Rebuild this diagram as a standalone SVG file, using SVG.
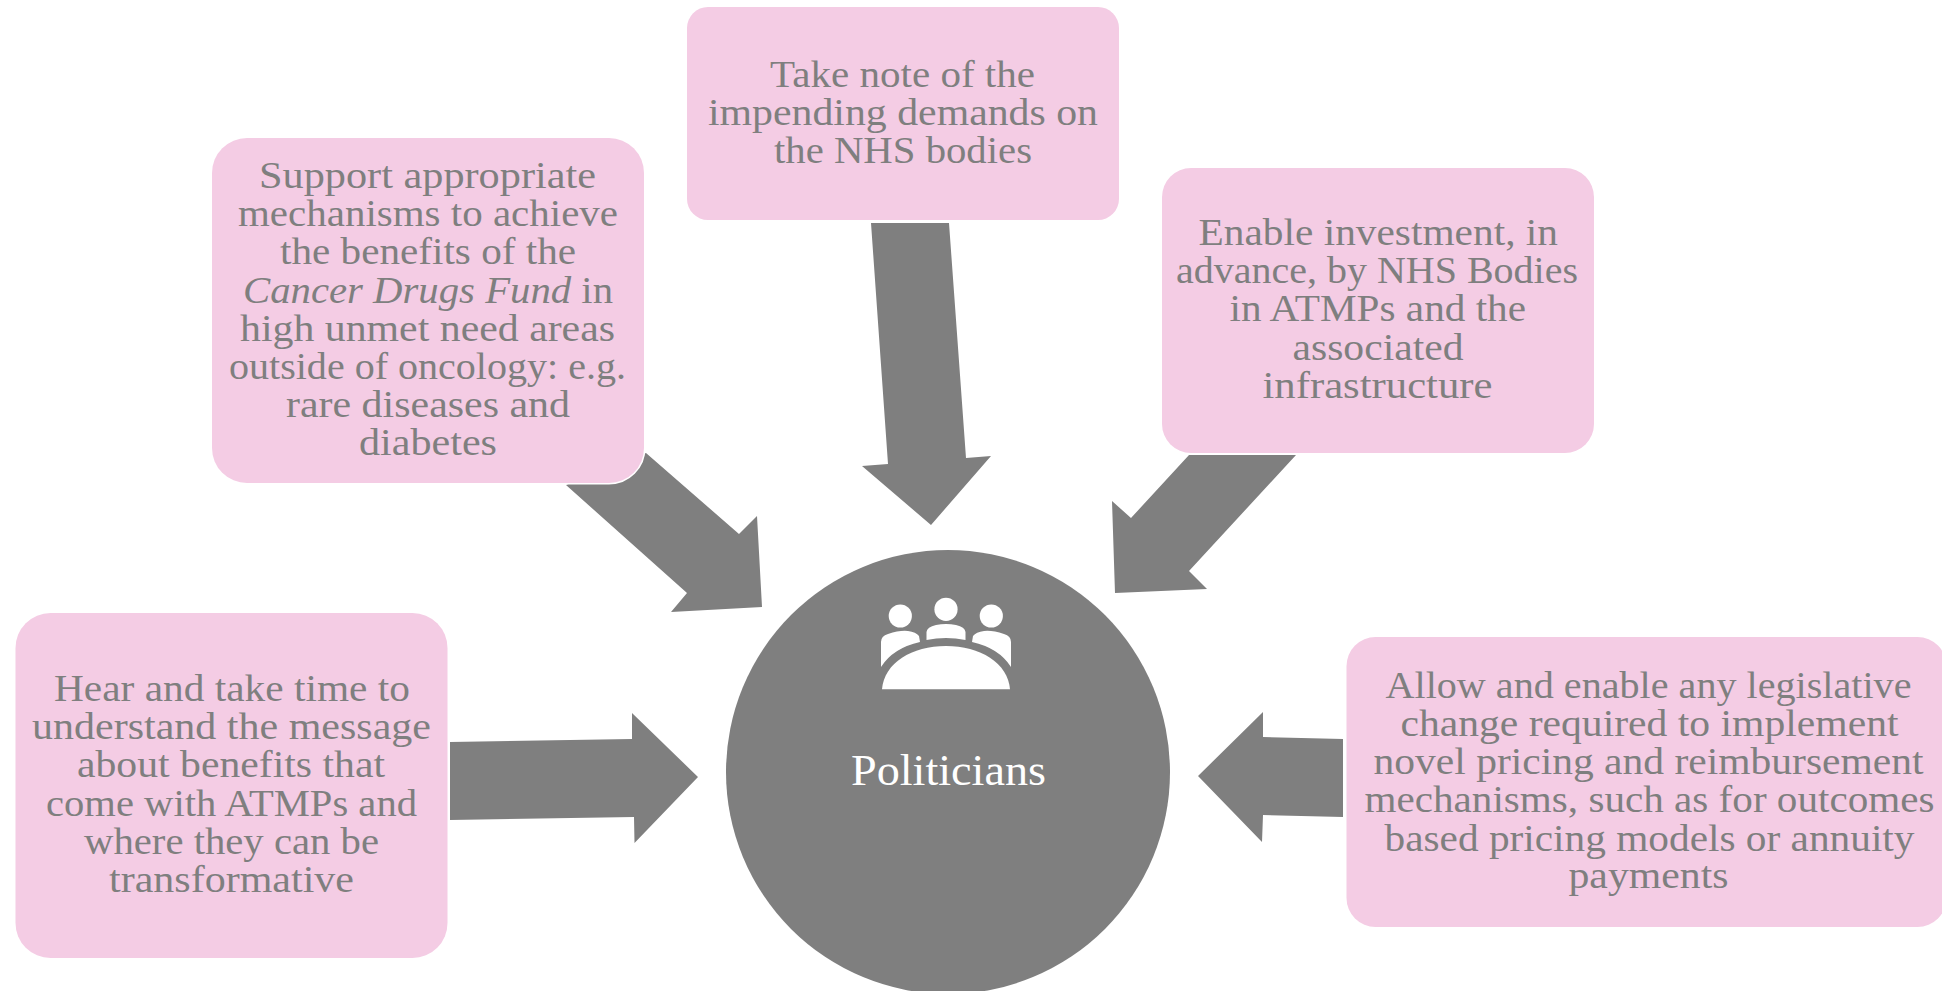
<svg xmlns="http://www.w3.org/2000/svg" width="1942" height="991" viewBox="0 0 1942 991">
<style>
.box{fill:#f4cce4}
.halo{fill:none;stroke:#ffffff;stroke-width:3}
.arrow{fill:#7f7f7f}
.t{font-family:"Liberation Serif","DejaVu Serif",serif;font-size:38px;fill:#7f7f7f}
.hub{fill:#7f7f7f}
.ic{fill:#ffffff}
.p{font-family:"Liberation Serif","DejaVu Serif",serif;font-size:45px;fill:#ffffff}
</style>
<rect width="1942" height="991" fill="#ffffff"/>
<g id="connectors">
<polygon class="arrow" points="450,742 632,739 632,713 698,777 634.5,843 634,817 450,820"/>
<polygon class="arrow" points="646,453 739,534 757,516 762,607 671,612 687,593 566,485"/>
<polygon class="arrow" points="871,223 949,223 966,458 991,456 931,525 862,466 888,464"/>
<polygon class="arrow" points="1189,455 1296,455 1189,571 1207,589 1115,593 1112,501 1131,518"/>
<polygon class="arrow" points="1343,739 1263,737 1263,712 1198,776 1262,842 1263,815 1343,817"/>
</g>
<g id="node-politicians">
<circle class="hub" cx="948" cy="772" r="222"/>
<g id="icon">
<circle class="ic" cx="900.3" cy="616" r="11.6"/>
<circle class="ic" cx="946" cy="609.3" r="11.6"/>
<circle class="ic" cx="991.3" cy="616" r="11.6"/>
<path class="ic" d="M881,667V642Q881,636 888,634Q900,630 908,631Q916,632 919,636L920,642Q893,648 881,667Z"/>
<path class="ic" d="M1011,667V642Q1011,636 1004,634Q992,630 984,631Q976,632 973,636L972,642Q999,648 1011,667Z"/>
<path class="ic" d="M926.5,640V632Q927,627 936,625Q946,623 956,625Q965,627 965.5,632V640Q946,636 926.5,640Z"/>
<path class="ic" d="M882,689.3C884,663 912,646 946,646C980,646 1008,663 1010,689.3Z"/>
</g>
<text class="p" x="851" y="785" textLength="195" lengthAdjust="spacingAndGlyphs">Politicians</text>
</g>
<g id="node-hear">
<rect class="box" x="15.5" y="613" width="432" height="345" rx="35" ry="35"/>
<text class="t" x="54" y="701" textLength="356" lengthAdjust="spacingAndGlyphs">Hear and take time to</text>
<text class="t" x="32" y="739" textLength="399" lengthAdjust="spacingAndGlyphs">understand the message</text>
<text class="t" x="77" y="777" textLength="308" lengthAdjust="spacingAndGlyphs">about benefits that</text>
<text class="t" x="46" y="816" textLength="371" lengthAdjust="spacingAndGlyphs">come with ATMPs and</text>
<text class="t" x="84" y="854" textLength="295" lengthAdjust="spacingAndGlyphs">where they can be</text>
<text class="t" x="109" y="892" textLength="245" lengthAdjust="spacingAndGlyphs">transformative</text>
</g>
<g id="node-support">
<rect class="halo" x="212" y="138" width="432" height="345" rx="35" ry="35"/>
<rect class="box" x="212" y="138" width="432" height="345" rx="35" ry="35"/>
<text class="t" x="259" y="188" textLength="337" lengthAdjust="spacingAndGlyphs">Support appropriate</text>
<text class="t" x="238" y="226" textLength="380" lengthAdjust="spacingAndGlyphs">mechanisms to achieve</text>
<text class="t" x="280" y="264" textLength="296" lengthAdjust="spacingAndGlyphs">the benefits of the</text>
<text class="t" x="243" y="303" textLength="370" lengthAdjust="spacingAndGlyphs"><tspan font-style="italic">Cancer Drugs Fund</tspan> in</text>
<text class="t" x="240" y="341" textLength="375" lengthAdjust="spacingAndGlyphs">high unmet need areas</text>
<text class="t" x="229" y="379" textLength="397" lengthAdjust="spacingAndGlyphs">outside of oncology: e.g.</text>
<text class="t" x="286" y="417" textLength="284" lengthAdjust="spacingAndGlyphs">rare diseases and</text>
<text class="t" x="359" y="455" textLength="138" lengthAdjust="spacingAndGlyphs">diabetes</text>
</g>
<g id="node-note">
<rect class="box" x="687" y="7" width="432" height="213" rx="21" ry="21"/>
<text class="t" x="770" y="87" textLength="265" lengthAdjust="spacingAndGlyphs">Take note of the</text>
<text class="t" x="708" y="125" textLength="390" lengthAdjust="spacingAndGlyphs">impending demands on</text>
<text class="t" x="774" y="163" textLength="258" lengthAdjust="spacingAndGlyphs">the NHS bodies</text>
</g>
<g id="node-enable">
<rect class="box" x="1162" y="168" width="432" height="285" rx="29" ry="29"/>
<text class="t" x="1198.5" y="245" textLength="359.5" lengthAdjust="spacingAndGlyphs">Enable investment, in</text>
<text class="t" x="1176" y="283" textLength="402" lengthAdjust="spacingAndGlyphs">advance, by NHS Bodies</text>
<text class="t" x="1229.5" y="321" textLength="296.5" lengthAdjust="spacingAndGlyphs">in ATMPs and the</text>
<text class="t" x="1292.5" y="360" textLength="171" lengthAdjust="spacingAndGlyphs">associated</text>
<text class="t" x="1262.5" y="398" textLength="230" lengthAdjust="spacingAndGlyphs">infrastructure</text>
</g>
<g id="node-allow">
<rect class="box" x="1346.5" y="637" width="600" height="290" rx="29" ry="29"/>
<text class="t" x="1385.5" y="698" textLength="526" lengthAdjust="spacingAndGlyphs">Allow and enable any legislative</text>
<text class="t" x="1400.5" y="736" textLength="498" lengthAdjust="spacingAndGlyphs">change required to implement</text>
<text class="t" x="1373.5" y="774" textLength="550" lengthAdjust="spacingAndGlyphs">novel pricing and reimbursement</text>
<text class="t" x="1364.5" y="812" textLength="570" lengthAdjust="spacingAndGlyphs">mechanisms, such as for outcomes</text>
<text class="t" x="1384.5" y="851" textLength="530" lengthAdjust="spacingAndGlyphs">based pricing models or annuity</text>
<text class="t" x="1568.5" y="888" textLength="160" lengthAdjust="spacingAndGlyphs">payments</text>
</g>
</svg>
